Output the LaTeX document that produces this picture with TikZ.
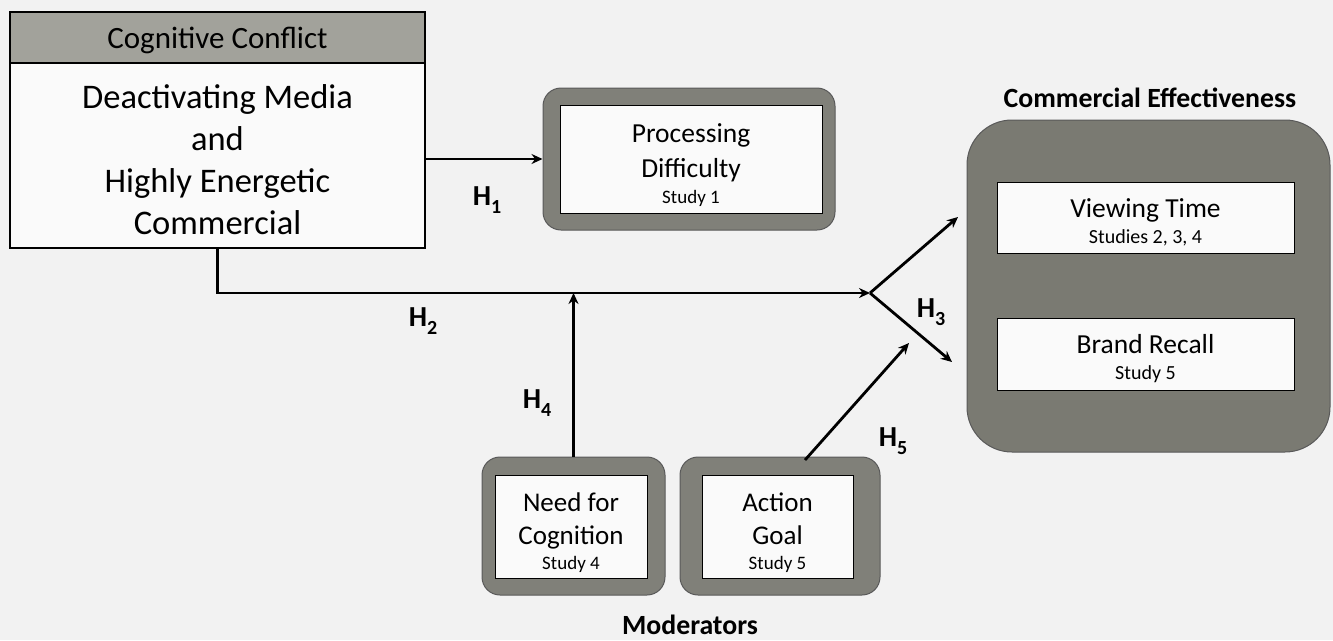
\documentclass[tikz,border=0pt]{standalone}
\usepackage{fontspec}
\setmainfont{Carlito}
\usetikzlibrary{arrows.meta}
\definecolor{bg}{RGB}{242,242,242}
\definecolor{hdrgray}{RGB}{162,162,155}
\definecolor{outergray}{RGB}{128,128,121}
\definecolor{bigouter}{RGB}{122,122,114}
\definecolor{boxwhite}{RGB}{250,250,250}
\newcommand{\Hlab}[1]{\fontsize{29}{29}\selectfont\bfseries H\raisebox{-0.55ex}{\fontsize{20}{20}\selectfont #1}}
\begin{document}
\begin{tikzpicture}[x=1pt,y=-1pt,
  hdrbox/.style={draw=black, fill=hdrgray, line width=1.2pt, inner sep=0pt},
  mainbox/.style={draw=black, fill=boxwhite, line width=1.2pt, inner sep=0pt},
  outerbox/.style={draw=black!65, fill=outergray, line width=1pt, rounded corners=18pt, inner sep=0pt},
  innerbox/.style={draw=black, fill=boxwhite, line width=1pt, inner sep=0pt},
  boxtext/.style={inner sep=0pt, align=center},
  conn/.style={line width=2.8pt, -{Stealth[length=11pt,width=10pt]}},
  hlabel/.style={inner sep=0pt}
]
\path[fill=bg] (0,0) rectangle (1333,640);

% Cognitive conflict
\node[hdrbox, minimum width=415pt, minimum height=51pt] (hdr) at (217.5,37.5) {};
\node[boxtext, font=\fontsize{31}{31}\selectfont] (hdrtext) at ([yshift=-3pt]hdr.center) {Cognitive Conflict};
\node[mainbox, minimum width=415pt, minimum height=185pt] (main) at (217.5,155.5) {};
\node[boxtext, font=\fontsize{34.5}{42}\selectfont] (maintext) at ([yshift=-4pt]main.center)
  {Deactivating Media\\and\\Highly Energetic\\Commercial};

% Processing difficulty
\node[outerbox, minimum width=292pt, minimum height=142pt] (proco) at (689,159) {};
\node[innerbox, minimum width=262pt, minimum height=108pt] (proc) at (691,159) {};
\node[boxtext, font=\fontsize{27.5}{35}\selectfont] (proctext) at ([yshift=-6.5pt]proc.center)
  {Processing\\Difficulty\\[-9pt]\fontsize{19}{22}\selectfont Study 1};

% Commercial effectiveness
\node[outerbox, rounded corners=45pt, fill=bigouter, minimum width=363pt, minimum height=332pt] (ce) at (1148.5,286) {};
\node[inner sep=0pt, font=\fontsize{27.8}{28}\selectfont\bfseries] (cetitle) at (1150,98) {Commercial Effectiveness};
\node[innerbox, minimum width=297pt, minimum height=71pt] (vt) at (1145.5,217.5) {};
\node[boxtext, font=\fontsize{27.5}{30}\selectfont] (vttext) at ([yshift=-5pt]vt.center)
  {Viewing Time\\[-4pt]\fontsize{20}{24}\selectfont Studies 2, 3, 4};
\node[innerbox, minimum width=297pt, minimum height=72pt] (br) at (1145.5,354) {};
\node[boxtext, font=\fontsize{27.5}{30}\selectfont] (brtext) at ([yshift=-5pt]br.center)
  {Brand Recall\\[-4pt]\fontsize{20}{24}\selectfont Study 5};

% Moderators
\node[outerbox, minimum width=183pt, minimum height=138pt] (nfco) at (573.5,526) {};
\node[innerbox, minimum width=152pt, minimum height=103pt] (nfc) at (571,526.5) {};
\node[boxtext, font=\fontsize{27}{33}\selectfont] (nfctext) at ([yshift=-6pt]nfc.center)
  {Need for\\Cognition\\[-8pt]\fontsize{19}{22}\selectfont Study 4};
\node[outerbox, minimum width=200pt, minimum height=138pt] (ago) at (780,526) {};
\node[innerbox, minimum width=151pt, minimum height=103pt] (ag) at (777.5,526.5) {};
\node[boxtext, font=\fontsize{27}{33}\selectfont] (agtext) at ([yshift=-6pt]ag.center)
  {Action\\Goal\\[-8pt]\fontsize{19}{22}\selectfont Study 5};
\node[inner sep=0pt, font=\fontsize{27.8}{28}\selectfont\bfseries] (modtitle) at (690,625) {Moderators};

% connectors
\coordinate (split) at (870,293);
\coordinate (upend) at (958,217);
\coordinate (downend) at (952,362);
\coordinate (h5start) at (805,460);
\coordinate (h5end) at (909,343);

\draw[conn] (main.east |- proco.west) -- (proco.west);
\draw[conn] (main.south) |- (split);
\draw[conn] (split) -- (upend);
\draw[conn] (split) -- (downend);
\draw[conn] (nfco.north) -- (nfco.north |- split);
\draw[conn] (h5start) -- (h5end);

% labels
\node[hlabel] (h1) at (487,200) {\Hlab{1}};
\node[hlabel] (h2) at (423,321) {\Hlab{2}};
\node[hlabel] (h3) at (931,312) {\Hlab{3}};
\node[hlabel] (h4) at (537,403) {\Hlab{4}};
\node[hlabel] (h5) at (893,441) {\Hlab{5}};
\end{tikzpicture}
\end{document}
